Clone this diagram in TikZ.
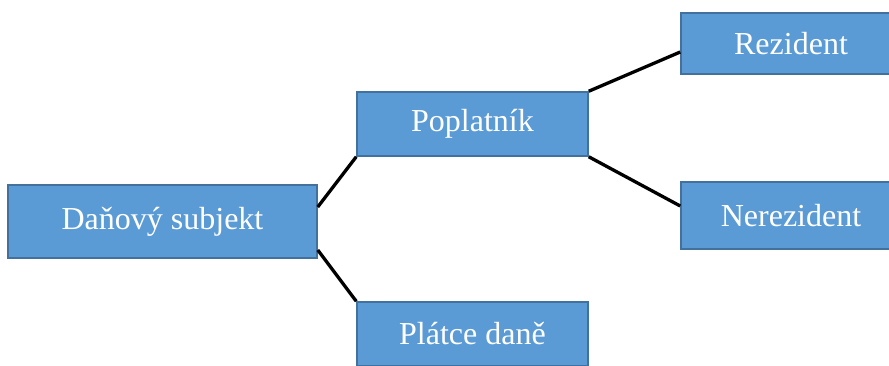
\documentclass[tikz,border=0pt]{standalone}
\usepackage{fontspec}
\setmainfont{Liberation Serif}
\usepackage{tikz}
\usetikzlibrary{positioning}
\definecolor{boxfill}{HTML}{5B9BD5}
\definecolor{boxline}{HTML}{41719C}

\begin{document}
\begin{tikzpicture}[x=1pt,y=1pt,
	box/.style={rectangle, draw=boxline, fill=boxfill, line width=1.5pt, text=white, inner sep=0pt, font=\fontsize{32}{36}\selectfont},
	link/.style={draw=black, line width=3.3pt}]
\useasboundingbox (0,0) rectangle (889,365);
% uzly
\node[box, minimum width=309pt, minimum height=73pt] (subjekt) at (162.5,143.5) {Daňový subjekt};
\node[box, minimum width=231pt, minimum height=64pt] (poplatnik) at (472.5,241) {Poplatník};
\node[box, minimum width=231pt, minimum height=64pt] (platce) at (472.5,31) {Plátce daně};
\node[box, minimum width=220pt, minimum height=61pt] (rezident) at (791,321.5) {Rezident};
\node[box, minimum width=220pt, minimum height=67pt] (nerezident) at (791,149.5) {Nerezident};
% spojnice
\draw[link] ([yshift=14.5pt]subjekt.east) -- (poplatnik.south west);
\draw[link] ([yshift=-28.5pt]subjekt.east) -- (platce.north west);
\draw[link] (poplatnik.north east) -- ([yshift=-8.5pt]rezident.west);
\draw[link] (poplatnik.south east) -- ([yshift=9.5pt]nerezident.west);
\end{tikzpicture}
\end{document}
